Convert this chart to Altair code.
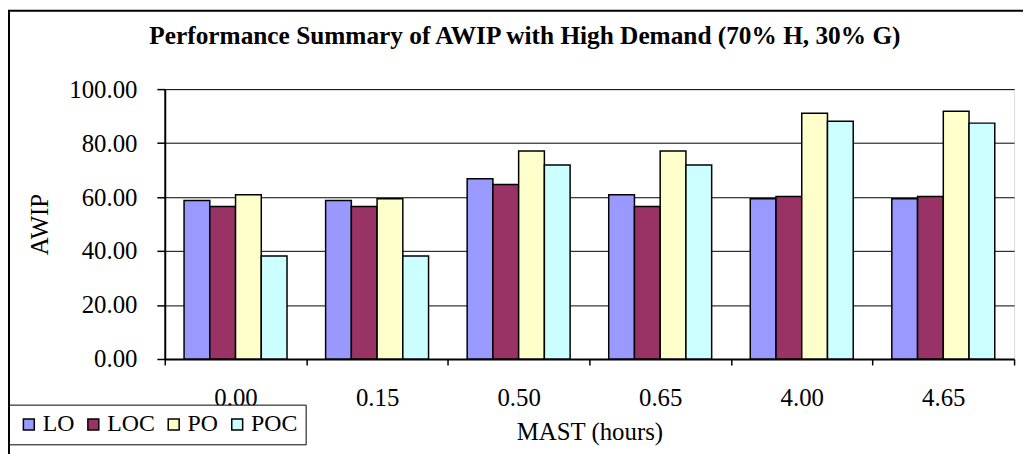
import altair as alt
import pandas as pd

categories = ["0.00", "0.15", "0.50", "0.65", "4.00", "4.65"]
series = ["LO", "LOC", "PO", "POC"]
lo = [58.7, 58.7, 66.8, 60.9, 59.4, 59.4]
loc = [56.5, 56.5, 64.7, 56.5, 60.2, 60.2]
po = [60.9, 59.4, 77.1, 77.1, 91.1, 91.8]
poc = [38.2, 38.2, 71.9, 71.9, 88.1, 87.4]
colors = ["#9999FF", "#993366", "#FFFFCC", "#CCFFFF"]
y_ticks = [0, 20, 40, 60, 80, 100]

rows = []
for name, vals in zip(series, [lo, loc, po, poc]):
    for c, v in zip(categories, vals):
        rows.append({"mast": c, "series": name, "awip": v})
df = pd.DataFrame(rows)

FONT = "Liberation Serif"

bars = alt.Chart(df).mark_bar(stroke="black", strokeWidth=1.5).encode(
    x=alt.X(
        "mast:N",
        sort=categories,
        scale=alt.Scale(paddingInner=0, paddingOuter=0),
        axis=alt.Axis(
            title="MAST (hours)",
            labelAngle=0,
            tickBand="extent",
            tickSize=6,
            tickColor="black",
            tickWidth=1.5,
            domainColor="black",
            domainWidth=2,
            labelFont=FONT,
            labelFontSize=25,
            labelColor="black",
            labelPadding=21,
            titleFont=FONT,
            titleFontSize=25,
            titleFontWeight="normal",
            titleColor="black",
            titleX=428,
            titleY=81,
            titleBaseline="alphabetic",
            titleAlign="center",
            grid=False,
        ),
    ),
    xOffset=alt.XOffset(
        "series:N", sort=series, scale=alt.Scale(paddingInner=0, paddingOuter=0.75)
    ),
    y=alt.Y(
        "awip:Q",
        scale=alt.Scale(domain=[0, 100], nice=False),
        axis=alt.Axis(
            title="AWIP",
            values=y_ticks,
            format=".2f",
            tickSize=8,
            tickColor="black",
            tickWidth=1.5,
            domainColor="black",
            domainWidth=2,
            grid=True,
            gridColor="black",
            gridWidth=1,
            labelFont=FONT,
            labelFontSize=25,
            labelColor="black",
            labelPadding=20,
            titleFont=FONT,
            titleFontSize=25,
            titleFontWeight="normal",
            titleColor="black",
            titleAngle=270,
            titleX=-126,
            titleY=136,
            titleAlign="center",
            titleBaseline="middle",
        ),
    ),
    color=alt.Color(
        "series:N",
        sort=series,
        scale=alt.Scale(domain=series, range=colors),
        legend=alt.Legend(
            title=None,
            orient="none",
            legendX=-157,
            legendY=318,
            direction="horizontal",
            columns=4,
            symbolType="square",
            symbolSize=121,
            symbolStrokeColor="black",
            symbolStrokeWidth=1.5,
            symbolOpacity=1,
            labelFont=FONT,
            labelFontSize=24,
            labelColor="black",
            labelOffset=2,
            columnPadding=7,
            padding=8,
            fillColor="white",
            strokeColor="black",
        ),
    ),
)

frame = alt.Chart(pd.DataFrame({"a": [0]})).mark_rect(
    fillOpacity=0, stroke="black", strokeWidth=2
).encode(
    x=alt.value(-157), x2=alt.value(1000), y=alt.value(-79), y2=alt.value(500)
)

chart = alt.layer(frame, bars).properties(
    width=856,
    height=272,
    title=alt.Title(
        "Performance Summary of AWIP with High Demand (70% H, 30% G)",
        font=FONT,
        fontSize=25.5,
        fontWeight="bold",
        color="black",
        anchor="middle",
        frame="group",
        dx=-65,
        offset=-60,
        baseline="alphabetic",
    ),
    autosize=alt.AutoSizeParams(type="none"),
    padding={"left": 158, "top": 80, "right": 9, "bottom": 94},
).configure_view(stroke="black", strokeWidth=2).configure(background="white")

chart.save("out.html", embed_options={"renderer": "svg", "actions": False})
